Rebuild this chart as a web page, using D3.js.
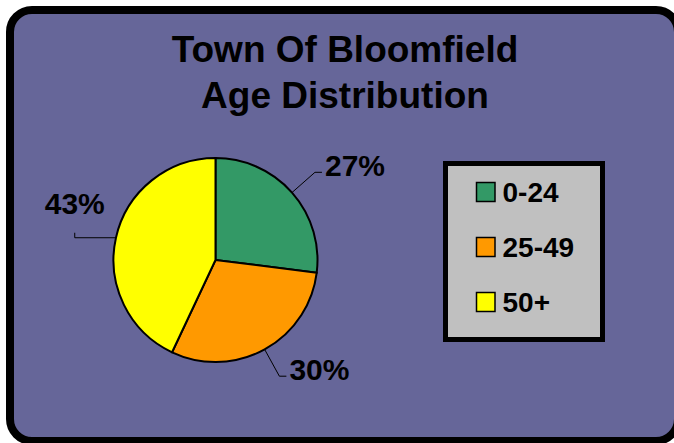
<!DOCTYPE html>
<html>
<head>
<meta charset="utf-8">
<script src="https://cdn.jsdelivr.net/npm/d3@7"></script>
<style>
  body { margin: 0; background: #fff; }
  text { font-family: Arial, "Liberation Sans", sans-serif; font-weight: bold; fill: #000; }
</style>
</head>
<body>
<div id="chart"></div>
<script>
// chart data
const titleLines = ["Town Of Bloomfield", "Age Distribution"];
const categories = ["0-24", "25-49", "50+"];
const shares = [27, 30, 43];
const pctLabels = ["27%", "30%", "43%"];
const colors = ["#339966", "#FF9900", "#FFFF00"];

const width = 674, height = 443;

const svg = d3.select("#chart")
  .append("svg")
    .attr("width", width)
    .attr("height", height);

// rounded frame
svg.append("rect")
    .attr("x", 10)
    .attr("y", 10)
    .attr("width", 668)
    .attr("height", 431)
    .attr("rx", 22)
    .attr("fill", "#666699")
    .attr("stroke", "#000")
    .attr("stroke-width", 8);

// title
svg.append("g")
  .selectAll("text")
  .data(titleLines)
  .enter()
  .append("text")
    .attr("x", 345)
    .attr("y", (d, i) => 62 + i * 46)
    .attr("text-anchor", "middle")
    .style("font-size", "37px")
    .text(d => d);

// pie
const cx = 215.5, cy = 260, r = 102;
const pie = d3.pie().sort(null).value(d => d);
const arcs = pie(shares);
const arc = d3.arc().innerRadius(0).outerRadius(r);

const g = svg.append("g")
    .attr("transform", `translate(${cx},${cy})`);

g.selectAll("path")
  .data(arcs)
  .enter()
  .append("path")
    .attr("d", arc)
    .attr("fill", (d, i) => colors[i])
    .attr("stroke", "#000")
    .attr("stroke-width", 2)
    .attr("stroke-linejoin", "round");

// leader lines + labels
const pt = (a, rad) => [Math.sin(a) * rad, -Math.cos(a) * rad];

arcs.forEach((d, i) => {
  const mid = (d.startAngle + d.endAngle) / 2;
  const side = Math.sin(mid) >= 0 ? 1 : -1;
  const p0 = pt(mid, r);
  let pts, lx, ly, anchor;
  if (Math.abs(Math.cos(mid)) < 0.35) {
    // near horizontal: run out flat, small tick up, label above
    const p1 = [side * r * 1.38, p0[1]];
    const p2 = [p1[0], p1[1] - 5];
    pts = [p0, p1, p2];
    lx = p1[0]; ly = p2[1] - 19; anchor = "middle";
  } else {
    const p1 = pt(mid, r * 1.3);
    const p2 = [p1[0] + side * 7, p1[1]];
    pts = [p0, p1, p2];
    lx = p2[0] + side * 3; ly = p1[1] + 4; anchor = side > 0 ? "start" : "end";
  }
  g.append("path")
      .attr("d", d3.line()(pts))
      .attr("fill", "none")
      .attr("stroke", "#000")
      .attr("stroke-width", 1);
  g.append("text")
      .attr("x", lx)
      .attr("y", ly)
      .attr("text-anchor", anchor)
      .style("font-size", "30px")
      .text(pctLabels[i]);
});

// legend
const legend = svg.append("g");
legend.append("rect")
    .attr("x", 445.5)
    .attr("y", 163.5)
    .attr("width", 157)
    .attr("height", 176)
    .attr("fill", "#C0C0C0")
    .attr("stroke", "#000")
    .attr("stroke-width", 5);

const rows = legend.selectAll(".row")
  .data(categories)
  .enter()
  .append("g")
    .attr("class", "row")
    .attr("transform", (d, i) => `translate(476.5,${182.5 + i * 55})`);

rows.append("rect")
    .attr("width", 18.5)
    .attr("height", 19)
    .attr("fill", (d, i) => colors[i])
    .attr("stroke", "#000")
    .attr("stroke-width", 1.5);

rows.append("text")
    .attr("x", 26)
    .attr("y", 19.2)
    .style("font-size", "28px")
    .text(d => d);
</script>
</body>
</html>
